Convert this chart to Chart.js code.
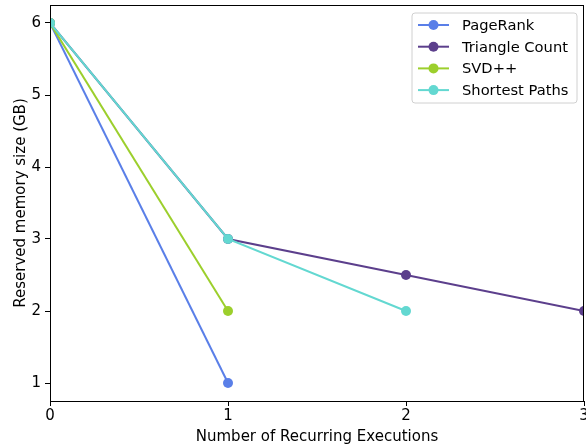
<!DOCTYPE html>
<html>
<head>
<meta charset="utf-8">
<script src="https://cdn.jsdelivr.net/npm/chart.js@4.4.1/dist/chart.umd.min.js"></script>
<style>
  html, body { margin: 0; padding: 0; background: #fff; overflow: hidden; }
  #wrap { width: 586px; height: 446px; position: relative; overflow: hidden; }
  #c { position: absolute; left: 0; top: 0; }
</style>
</head>
<body>
<div id="wrap"><canvas id="c" width="589" height="446"></canvas></div>
<script>
// Recurring executions on the x axis, reserved memory (GB) on the y axis
const seriesNames = ['PageRank', 'Triangle Count', 'SVD++', 'Shortest Paths'];
const pageRankX = [0, 1];
const pageRankY = [6, 1];
const triangleX = [0, 1, 2, 3];
const triangleY = [6, 3, 2.5, 2];
const svdX = [0, 1];
const svdY = [6, 2];
const shortestX = [0, 1, 2];
const shortestY = [6, 3, 2];
const xTicks = [0, 1, 2, 3];
const yTicks = [1, 2, 3, 4, 5, 6];
const seriesColors = ['#5a7fe8', '#5c3f8c', '#9ccf2c', '#63d8d1'];

const FONT = 'DejaVu Sans';
const FS = 15;
const MARKER_R = 5;

function pts(xs, ys) { return xs.map((x, i) => ({ x: x, y: ys[i] })); }

const seriesData = [pts(pageRankX, pageRankY), pts(triangleX, triangleY), pts(svdX, svdY), pts(shortestX, shortestY)];

const datasets = seriesNames.map((name, i) => ({
  label: name,
  data: seriesData[i],
  borderColor: seriesColors[i],
  backgroundColor: seriesColors[i],
  pointBackgroundColor: seriesColors[i],
  pointBorderColor: seriesColors[i],
  borderWidth: 2,
  pointRadius: MARKER_R,
  pointBorderWidth: 0,
  tension: 0,
  clip: 0,
  order: seriesNames.length - i   // later series drawn on top
}));

// Full axes frame drawn over the data
const framePlugin = {
  id: 'frame',
  afterDatasetsDraw(chart) {
    const a = chart.chartArea, ctx = chart.ctx;
    ctx.save();
    ctx.strokeStyle = '#000';
    ctx.lineWidth = 1;
    ctx.strokeRect(Math.round(a.left) + 0.5, Math.round(a.top) + 0.5,
                   Math.round(a.right - a.left) - 1, Math.round(a.bottom - a.top));
    ctx.restore();
  }
};

// Legend box in the upper right of the plot area
const legendPlugin = {
  id: 'boxLegend',
  afterDraw(chart) {
    const ctx = chart.ctx;
    const bx = 412, by = 13, bw = 165, bh = 90, r = 3;
    ctx.save();
    ctx.beginPath();
    ctx.moveTo(bx + r, by);
    ctx.lineTo(bx + bw - r, by);
    ctx.arcTo(bx + bw, by, bx + bw, by + r, r);
    ctx.lineTo(bx + bw, by + bh - r);
    ctx.arcTo(bx + bw, by + bh, bx + bw - r, by + bh, r);
    ctx.lineTo(bx + r, by + bh);
    ctx.arcTo(bx, by + bh, bx, by + bh - r, r);
    ctx.lineTo(bx, by + r);
    ctx.arcTo(bx, by, bx + r, by, r);
    ctx.closePath();
    ctx.fillStyle = 'rgba(255,255,255,0.85)';
    ctx.fill();
    ctx.strokeStyle = '#d0d0d0';
    ctx.lineWidth = 1;
    ctx.stroke();
    ctx.font = '14.7px "' + FONT + '"';
    ctx.textBaseline = 'middle';
    ctx.textAlign = 'left';
    chart.data.datasets.forEach((ds, i) => {
      const y = 25 + i * 21.7;
      ctx.strokeStyle = ds.borderColor;
      ctx.lineWidth = 2;
      ctx.beginPath();
      ctx.moveTo(418, y);
      ctx.lineTo(449, y);
      ctx.stroke();
      ctx.fillStyle = ds.borderColor;
      ctx.beginPath();
      ctx.arc(433.5, y, MARKER_R, 0, Math.PI * 2);
      ctx.fill();
      ctx.fillStyle = '#000';
      ctx.fillText(ds.label, 462, y + 1);
    });
    ctx.restore();
  }
};

new Chart(document.getElementById('c'), {
  type: 'line',
  data: { datasets: datasets },
  options: {
    responsive: false,
    animation: false,
    devicePixelRatio: 1,
    layout: { padding: { top: 5, right: 0, left: 0, bottom: 0 } },
    plugins: {
      legend: { display: false },
      tooltip: { enabled: false }
    },
    scales: {
      x: {
        type: 'linear',
        min: 0,
        max: 3,
        afterBuildTicks(scale) { scale.ticks = xTicks.map(v => ({ value: v })); },
        afterFit(scale) { scale.height = 45; scale.paddingLeft = 0; scale.paddingRight = 0; },
        grid: { drawOnChartArea: false, drawTicks: true, tickLength: 5, tickColor: '#000', tickWidth: 1 },
        border: { display: false },
        ticks: { color: '#000', font: { family: FONT, size: FS }, padding: 1, maxRotation: 0 },
        title: { display: true, text: 'Number of Recurring Executions', color: '#000',
                 font: { family: FONT, size: FS }, padding: { top: 1, bottom: 0 } }
      },
      y: {
        type: 'linear',
        min: 0.75,
        max: 6.25,
        afterBuildTicks(scale) { scale.ticks = yTicks.map(v => ({ value: v })); },
        afterFit(scale) { scale.width = 50; scale.paddingTop = 0; scale.paddingBottom = 0; },
        grid: { drawOnChartArea: false, drawTicks: true, tickLength: 5, tickColor: '#000', tickWidth: 1 },
        border: { display: false },
        ticks: { color: '#000', font: { family: FONT, size: FS }, padding: 4 },
        title: { display: true, text: 'Reserved memory size (GB)', color: '#000',
                 font: { family: FONT, size: FS }, padding: { top: 12, bottom: 0 } }
      }
    }
  },
  plugins: [framePlugin, legendPlugin]
});
</script>
</body>
</html>
